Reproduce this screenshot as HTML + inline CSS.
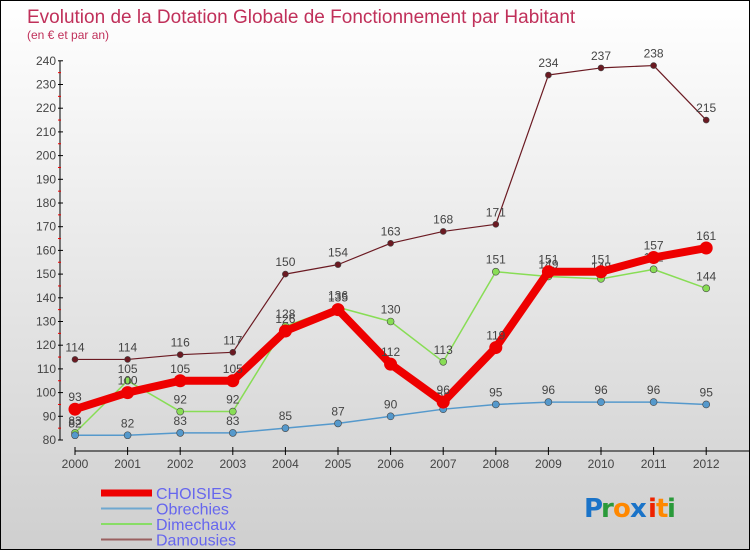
<!DOCTYPE html>
<html><head><meta charset="utf-8"><style>
html,body{margin:0;padding:0}
body{width:750px;height:550px;overflow:hidden;font-family:"Liberation Sans",sans-serif}
#wrap{position:relative;width:748px;height:548px;border:1px solid #000;background:linear-gradient(#ffffff,#cfcfcf)}
</style></head><body>
<div id="wrap">
<svg id="chart" width="748" height="548" style="position:absolute;left:0;top:0"></svg>
</div>
<script>
const years=["2000","2001","2002","2003","2004","2005","2006","2007","2008","2009","2010","2011","2012"];
const yTicks=[80,90,100,110,120,130,140,150,160,170,180,190,200,210,220,230,240];
const choisies=[93,100,105,105,126,135,112,96,119,151,151,157,161];
const obrechies=[82,82,83,83,85,87,90,93,95,96,96,96,95];
const dimechaux=[83,105,92,92,128,136,130,113,151,149,148,152,144];
const damousies=[114,114,116,117,150,154,163,168,171,234,237,238,215];
const seriesNames=["CHOISIES","Obrechies","Dimechaux","Damousies"];
const NS="http://www.w3.org/2000/svg";
const svg=document.getElementById('chart');
const X=i=>74+i*52.6;
const Y=v=>439-(v-80)*2.37;
function mk(t,a,p){const e=document.createElementNS(NS,t);for(const k in a)e.setAttribute(k,a[k]);(p||svg).appendChild(e);return e;}
function txt(x,y,s,a,p){const e=mk('text',Object.assign({x:x,y:y},a),p);e.textContent=s;return e;}
let t=txt(26,22,"Evolution de la Dotation Globale de Fonctionnement par Habitant",{'font-size':19,fill:'#c0305a'});


t=txt(26,38,"(en € et par an)",{'font-size':12,fill:'#c0305a'});


let ax=mk('line',{x1:59,y1:Y(240),x2:59,y2:Y(80),stroke:'#000','stroke-width':1});


yTicks.forEach((v,i)=>{
  mk('line',{x1:57,y1:Y(v),x2:62,y2:Y(v),stroke:'#000'});
  if(i<yTicks.length-1)mk('line',{x1:57,y1:Y(v+5),x2:60,y2:Y(v+5),stroke:'#e00'});
  const l=txt(55,Y(v)+4,String(v),{'font-size':12,fill:'#444','text-anchor':'end'});
  
  
});
ax=mk('line',{x1:X(0),y1:450,x2:748,y2:450,stroke:'#000'});


years.forEach((y,i)=>{
  mk('line',{x1:X(i),y1:446,x2:X(i),y2:454,stroke:'#000'});
  const l=txt(X(i),467,y,{'font-size':12,fill:'#444','text-anchor':'middle'});
  
  
});
function series(vals,color,w,r,name){
  const g=mk('g',{});
  
  
  const pts=vals.map((v,i)=>X(i)+','+Y(v)).join(' ');
  mk('polyline',{points:pts,fill:'none',stroke:color,'stroke-width':w,'stroke-linejoin':'round'},g);
  vals.forEach((v,i)=>{
    const c=mk('circle',{cx:X(i),cy:Y(v),r:r,fill:color,stroke:'#444','stroke-width':r>4?0:0.6},g);
    
    
    const l=txt(X(i),Y(v)-8,String(v),{'font-size':12,fill:'#444','text-anchor':'middle'},g);
    
    
  });
}
series(damousies,'#6b1a22',1.2,3,'damousies');
series(dimechaux,'#88dd55',1.5,3.5,'dimechaux');
series(obrechies,'#5599cc',1.5,3.5,'obrechies');
series(choisies,'#ee0000',8,6.5,'choisies');
const lc=['#ee0000','#6fa8d0','#88dd66','#9a6060'];
const lw=[7,2,2,2];
seriesNames.forEach((n,i)=>{
  const y=492+i*15.5;
  const g=mk('g',{});
  
  
  mk('line',{x1:100,y1:y,x2:151,y2:y,stroke:lc[i],'stroke-width':lw[i]},g);
  txt(155,y+6,n,{'font-size':16,fill:'#6666ee'},g);
});
const lg=mk('g',{});


const letters=[['P','#1a73c8'],['r','#2a9a3a'],['o','#ff8800'],['x','#1a73c8'],['i','#ee2200'],['t','#ff8800'],['i','#2a9a3a']];
let lx=583;
const adv=[17,12,17,18,8,11,8];
letters.forEach((l,i)=>{txt(lx,516,l[0],{fill:l[1],'font-size':'26px','font-weight':'bold','font-family':'DejaVu Sans, sans-serif'},lg);lx+=adv[i];});
</script>
</body></html>
